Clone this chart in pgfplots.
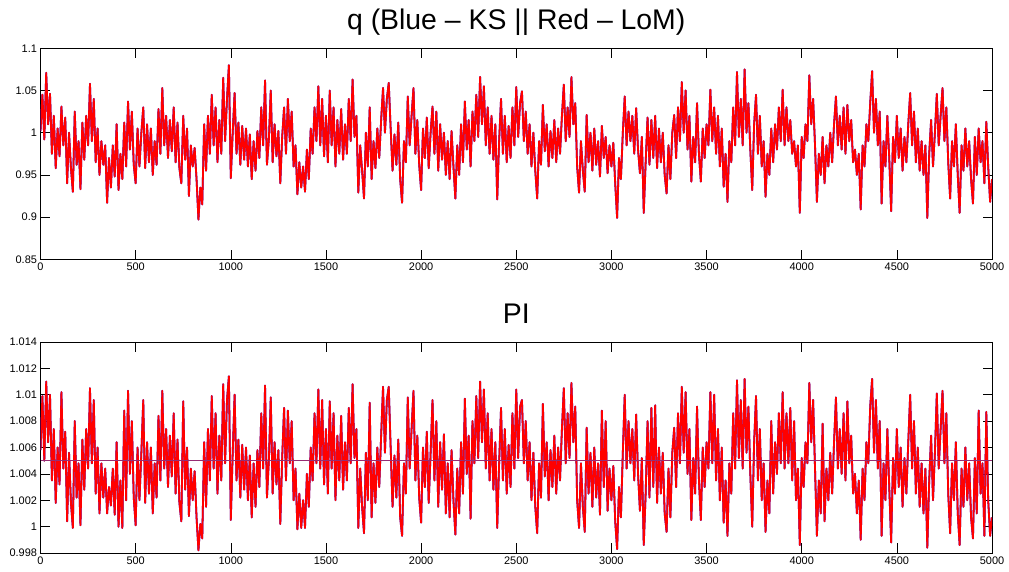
\documentclass[border=0pt]{standalone}
\usepackage{fontspec}
\setmainfont{Liberation Sans}
\usepackage{pgfplots}
\usepackage{pgfplotstable}
\pgfplotsset{compat=1.18}
\definecolor{ks}{RGB}{0,0,255}
\definecolor{lom}{RGB}{255,0,0}
\definecolor{ss}{RGB}{150,45,115}

% x, q, PI (KS and LoM coincide at this resolution)
\pgfplotstableread[row sep=\\]{
x q pi\\
0 1.002 1.0058\\ 10 1.045 1.0099\\ 20 0.992 1.0050\\ 30 1.071 1.0110\\ 40 1.010 1.0064\\ 50 1.046 1.0100\\ 60 0.975 1.0035\\ 70 1.020 1.0074\\ 80 0.958 1.0018\\ 90 1.005 1.0060\\
100 0.972 1.0032\\ 110 1.031 1.0102\\ 120 0.985 1.0044\\ 130 1.018 1.0072\\ 140 0.940 1.0004\\ 150 1.000 1.0056\\ 160 0.958 1.0018\\ 170 0.930 0.9999\\ 180 1.025 1.0080\\ 190 0.962 1.0022\\
200 0.990 1.0048\\ 210 0.933 1.0001\\ 220 1.012 1.0066\\ 230 0.968 1.0028\\ 240 1.020 1.0074\\ 250 0.985 1.0044\\ 260 1.058 1.0105\\ 270 0.990 1.0048\\ 280 1.040 1.0096\\ 290 0.965 1.0025\\
300 1.005 1.0060\\ 310 0.950 1.0010\\ 320 0.990 1.0048\\ 330 0.962 1.0022\\ 340 0.985 1.0044\\ 350 0.917 1.0010\\ 360 0.970 1.0030\\ 370 0.935 1.0016\\ 380 0.985 1.0044\\ 390 0.948 1.0009\\
400 1.010 1.0064\\ 410 0.932 1.0000\\ 420 0.975 1.0035\\ 430 0.945 0.9999\\ 440 1.012 1.0088\\ 450 0.960 1.0020\\ 460 1.037 1.0103\\ 470 0.980 1.0040\\ 480 1.025 1.0080\\ 490 0.962 1.0022\\
500 0.940 1.0001\\ 510 1.005 1.0060\\ 520 0.960 1.0020\\ 530 1.000 1.0056\\ 540 1.030 1.0096\\ 550 0.958 1.0018\\ 560 1.010 1.0064\\ 570 0.965 1.0025\\ 580 1.005 1.0060\\ 590 0.950 1.0010\\
600 0.990 1.0048\\ 610 0.962 1.0022\\ 620 1.028 1.0084\\ 630 0.975 1.0035\\ 640 1.053 1.0103\\ 650 0.985 1.0044\\ 660 1.020 1.0074\\ 670 0.970 1.0030\\ 680 1.015 1.0069\\ 690 0.978 1.0038\\
700 1.030 1.0086\\ 710 0.965 1.0025\\ 720 1.012 1.0066\\ 730 0.958 1.0018\\ 740 0.940 1.0004\\ 750 1.020 1.0095\\ 760 0.968 1.0028\\ 770 1.005 1.0060\\ 780 0.925 1.0008\\ 790 0.985 1.0044\\
800 0.960 1.0020\\ 810 0.982 1.0042\\ 820 0.945 1.0007\\ 830 0.897 0.9982\\ 840 0.935 1.0002\\ 850 0.915 0.9991\\ 860 1.010 1.0064\\ 870 0.955 1.0015\\ 880 1.020 1.0074\\ 890 0.975 1.0035\\
900 1.045 1.0099\\ 910 0.985 1.0044\\ 920 1.030 1.0086\\ 930 0.965 1.0025\\ 940 1.015 1.0069\\ 950 0.975 1.0035\\ 960 1.065 1.0108\\ 970 0.990 1.0048\\ 980 1.040 1.0096\\ 990 1.080 1.0114\\
1000 0.946 1.0005\\ 1010 1.000 1.0056\\ 1020 1.047 1.0100\\ 1030 0.975 1.0035\\ 1040 1.012 1.0066\\ 1050 0.962 1.0022\\ 1060 1.008 1.0062\\ 1070 0.968 1.0028\\ 1080 1.005 1.0060\\ 1090 0.960 1.0020\\
1100 0.998 1.0054\\ 1110 0.945 1.0007\\ 1120 0.990 1.0048\\ 1130 0.955 1.0015\\ 1140 1.002 1.0058\\ 1150 0.970 1.0030\\ 1160 1.030 1.0086\\ 1170 0.985 1.0044\\ 1180 1.062 1.0107\\ 1190 0.962 1.0022\\
1200 0.992 1.0050\\ 1210 1.050 1.0098\\ 1220 0.965 1.0025\\ 1230 1.010 1.0064\\ 1240 0.972 1.0032\\ 1250 1.002 1.0058\\ 1260 0.940 1.0002\\ 1270 0.995 1.0052\\ 1280 1.030 1.0090\\ 1290 0.975 1.0035\\
1300 1.040 1.0088\\ 1310 0.990 1.0048\\ 1320 1.025 1.0080\\ 1330 0.960 1.0020\\ 1340 0.985 1.0044\\ 1350 0.927 0.9998\\ 1360 0.965 1.0025\\ 1370 0.935 0.9999\\ 1380 0.960 1.0020\\ 1390 0.930 0.9999\\
1400 0.980 1.0040\\ 1410 0.945 1.0015\\ 1420 1.005 1.0060\\ 1430 0.975 1.0035\\ 1440 1.030 1.0086\\ 1450 0.990 1.0048\\ 1460 1.055 1.0104\\ 1470 0.985 1.0044\\ 1480 1.040 1.0096\\ 1490 0.972 1.0032\\
1500 1.020 1.0074\\ 1510 0.965 1.0025\\ 1520 1.050 1.0095\\ 1530 0.985 1.0044\\ 1540 1.030 1.0086\\ 1550 0.960 1.0020\\ 1560 1.015 1.0069\\ 1570 0.975 1.0035\\ 1580 1.028 1.0084\\ 1590 0.968 1.0028\\
1600 1.010 1.0064\\ 1610 0.975 1.0035\\ 1620 1.040 1.0090\\ 1630 0.990 1.0048\\ 1640 1.063 1.0108\\ 1650 0.995 1.0052\\ 1660 1.020 1.0074\\ 1670 0.929 0.9999\\ 1680 0.985 1.0044\\ 1690 0.955 1.0015\\
1700 0.922 0.9995\\ 1710 1.000 1.0056\\ 1720 0.960 1.0020\\ 1730 1.030 1.0094\\ 1740 0.945 1.0007\\ 1750 0.990 1.0048\\ 1760 0.958 1.0018\\ 1770 1.005 1.0060\\ 1780 0.970 1.0030\\ 1790 1.015 1.0069\\
1800 1.053 1.0106\\ 1810 1.000 1.0056\\ 1820 1.040 1.0096\\ 1830 1.059 1.0106\\ 1840 1.005 1.0060\\ 1850 0.955 1.0015\\ 1860 0.998 1.0054\\ 1870 0.962 1.0022\\ 1880 1.012 1.0066\\ 1890 0.945 1.0007\\
1900 0.917 0.9993\\ 1910 0.990 1.0048\\ 1920 0.965 1.0025\\ 1930 1.043 1.0098\\ 1940 0.985 1.0044\\ 1950 1.020 1.0074\\ 1960 1.053 1.0103\\ 1970 0.975 1.0035\\ 1980 1.015 1.0069\\ 1990 0.962 1.0022\\
2000 0.932 1.0003\\ 2010 1.005 1.0060\\ 2020 0.970 1.0030\\ 2030 1.018 1.0072\\ 2040 0.958 1.0018\\ 2050 1.000 1.0056\\ 2060 1.031 1.0096\\ 2070 0.975 1.0035\\ 2080 1.025 1.0080\\ 2090 0.955 1.0015\\
2100 1.010 1.0064\\ 2110 0.968 1.0028\\ 2120 1.000 1.0070\\ 2130 0.950 1.0010\\ 2140 0.990 1.0048\\ 2150 0.945 1.0007\\ 2160 1.002 1.0058\\ 2170 0.960 1.0020\\ 2180 0.922 0.9994\\ 2190 0.985 1.0044\\
2200 0.950 1.0010\\ 2210 1.010 1.0064\\ 2220 0.965 1.0025\\ 2230 1.037 1.0097\\ 2240 0.980 1.0040\\ 2250 1.015 1.0069\\ 2260 0.960 1.0006\\ 2270 1.025 1.0080\\ 2280 0.990 1.0048\\ 2290 1.045 1.0099\\
2300 0.995 1.0052\\ 2310 1.066 1.0110\\ 2320 1.010 1.0064\\ 2330 1.055 1.0104\\ 2340 0.985 1.0044\\ 2350 1.030 1.0086\\ 2360 0.975 1.0035\\ 2370 1.020 1.0074\\ 2380 0.968 1.0028\\ 2390 1.010 1.0064\\
2400 0.921 0.9999\\ 2410 0.990 1.0048\\ 2420 1.040 1.0090\\ 2430 0.975 1.0035\\ 2440 1.020 1.0074\\ 2450 0.965 1.0025\\ 2460 1.008 1.0062\\ 2470 0.970 1.0030\\ 2480 1.030 1.0086\\ 2490 0.985 1.0044\\
2500 1.054 1.0104\\ 2510 0.995 1.0052\\ 2520 1.035 1.0091\\ 2530 1.049 1.0096\\ 2540 0.990 1.0048\\ 2550 1.025 1.0080\\ 2560 0.975 1.0035\\ 2570 1.010 1.0064\\ 2580 0.960 1.0020\\ 2590 1.000 1.0056\\
2600 0.955 1.0015\\ 2610 0.922 0.9995\\ 2620 0.990 1.0048\\ 2630 0.962 1.0022\\ 2640 1.033 1.0093\\ 2650 0.978 1.0038\\ 2660 1.010 1.0064\\ 2670 0.960 1.0020\\ 2680 1.002 1.0058\\ 2690 0.970 1.0030\\
2700 1.015 1.0069\\ 2710 0.965 1.0025\\ 2720 1.005 1.0060\\ 2730 0.975 1.0035\\ 2740 1.020 1.0074\\ 2750 1.057 1.0105\\ 2760 0.990 1.0048\\ 2770 1.030 1.0086\\ 2780 0.995 1.0052\\ 2790 1.066 1.0109\\
2800 1.010 1.0064\\ 2810 1.035 1.0091\\ 2820 0.960 1.0020\\ 2830 0.929 0.9999\\ 2840 0.990 1.0048\\ 2850 0.955 1.0015\\ 2860 0.930 0.9996\\ 2870 1.021 1.0075\\ 2880 0.965 1.0025\\ 2890 1.000 1.0056\\
2900 0.955 1.0015\\ 2910 1.005 1.0060\\ 2920 0.962 1.0022\\ 2930 0.990 1.0048\\ 2940 0.948 1.0009\\ 2950 1.008 1.0088\\ 2960 0.970 1.0030\\ 2970 0.995 1.0080\\ 2980 0.952 1.0012\\ 2990 0.985 1.0044\\
3000 0.960 1.0020\\ 3010 0.988 1.0046\\ 3020 0.940 1.0004\\ 3030 0.899 0.9983\\ 3040 0.970 1.0030\\ 3050 0.945 1.0007\\ 3060 1.000 1.0056\\ 3070 1.043 1.0100\\ 3080 0.985 1.0044\\ 3090 1.025 1.0080\\
3100 0.990 1.0048\\ 3110 1.020 1.0074\\ 3120 0.975 1.0035\\ 3130 1.029 1.0085\\ 3140 0.980 1.0040\\ 3150 0.952 1.0012\\ 3160 0.995 1.0052\\ 3170 0.905 0.9986\\ 3180 0.965 1.0025\\ 3190 1.018 1.0080\\
3200 0.962 1.0022\\ 3210 1.015 1.0090\\ 3220 0.970 1.0030\\ 3230 1.020 1.0092\\ 3240 0.958 1.0018\\ 3250 1.005 1.0060\\ 3260 0.965 1.0025\\ 3270 1.000 1.0056\\ 3280 0.950 1.0010\\ 3290 0.928 0.9996\\
3300 0.985 1.0044\\ 3310 0.945 1.0007\\ 3320 1.000 1.0056\\ 3330 1.021 1.0075\\ 3340 0.970 1.0030\\ 3350 1.030 1.0086\\ 3360 0.990 1.0048\\ 3370 1.060 1.0106\\ 3380 1.000 1.0056\\ 3390 1.050 1.0102\\
3400 0.980 1.0040\\ 3410 1.020 1.0074\\ 3420 0.942 1.0005\\ 3430 0.995 1.0052\\ 3440 0.965 1.0025\\ 3450 1.035 1.0091\\ 3460 0.975 1.0035\\ 3470 0.942 1.0005\\ 3480 1.005 1.0060\\ 3490 0.970 1.0030\\
3500 1.010 1.0064\\ 3510 0.985 1.0044\\ 3520 1.051 1.0102\\ 3530 0.990 1.0048\\ 3540 1.030 1.0100\\ 3550 0.975 1.0035\\ 3560 1.020 1.0074\\ 3570 0.960 1.0020\\ 3580 1.005 1.0060\\ 3590 0.936 1.0003\\
3600 0.975 1.0035\\ 3610 0.918 0.9993\\ 3620 0.990 1.0048\\ 3630 0.965 1.0025\\ 3640 1.030 1.0086\\ 3650 0.985 1.0044\\ 3660 1.072 1.0111\\ 3670 0.995 1.0052\\ 3680 1.040 1.0096\\ 3690 0.985 1.0044\\
3700 1.075 1.0112\\ 3710 1.000 1.0056\\ 3720 1.035 1.0091\\ 3730 0.980 1.0040\\ 3740 0.932 1.0000\\ 3750 1.010 1.0064\\ 3760 1.045 1.0099\\ 3770 0.975 1.0035\\ 3780 1.020 1.0074\\ 3790 0.960 1.0020\\
3800 0.990 1.0048\\ 3810 0.924 0.9996\\ 3820 0.975 1.0035\\ 3830 0.950 1.0010\\ 3840 1.005 1.0080\\ 3850 0.965 1.0025\\ 3860 1.010 1.0064\\ 3870 0.980 1.0040\\ 3880 1.030 1.0086\\ 3890 0.990 1.0048\\
3900 1.051 1.0102\\ 3910 0.985 1.0044\\ 3920 1.030 1.0086\\ 3930 0.990 1.0048\\ 3940 1.015 1.0090\\ 3950 0.975 1.0035\\ 3960 0.990 1.0080\\ 3970 0.960 1.0020\\ 3980 0.985 1.0044\\ 3990 0.905 0.9986\\
4000 0.995 1.0052\\ 4010 0.970 1.0030\\ 4020 1.010 1.0064\\ 4030 0.990 1.0048\\ 4040 1.068 1.0109\\ 4050 1.010 1.0064\\ 4060 1.040 1.0096\\ 4070 0.985 1.0044\\ 4080 0.918 0.9993\\ 4090 0.975 1.0035\\
4100 0.950 1.0010\\ 4110 0.995 1.0078\\ 4120 0.940 1.0004\\ 4130 0.985 1.0044\\ 4140 0.960 1.0020\\ 4150 1.000 1.0056\\ 4160 0.965 1.0025\\ 4170 1.010 1.0064\\ 4180 1.043 1.0098\\ 4190 0.985 1.0044\\
4200 1.020 1.0074\\ 4210 0.980 1.0040\\ 4220 1.030 1.0086\\ 4230 0.975 1.0035\\ 4240 1.033 1.0095\\ 4250 0.990 1.0048\\ 4260 1.015 1.0069\\ 4270 0.965 1.0025\\ 4280 0.980 1.0040\\ 4290 0.950 1.0010\\
4300 0.975 1.0035\\ 4310 0.909 0.9990\\ 4320 0.985 1.0044\\ 4330 0.960 1.0020\\ 4340 1.010 1.0064\\ 4350 0.990 1.0048\\ 4360 1.035 1.0091\\ 4370 1.073 1.0112\\ 4380 1.000 1.0056\\ 4390 1.040 1.0096\\
4400 0.985 1.0044\\ 4410 1.025 1.0080\\ 4420 0.916 0.9993\\ 4430 0.990 1.0048\\ 4440 0.960 1.0020\\ 4450 1.020 1.0074\\ 4460 0.970 1.0030\\ 4470 0.907 0.9988\\ 4480 0.995 1.0052\\ 4490 0.965 1.0025\\
4500 1.020 1.0074\\ 4510 0.970 1.0030\\ 4520 1.005 1.0060\\ 4530 0.955 1.0015\\ 4540 0.995 1.0052\\ 4550 0.965 1.0025\\ 4560 1.010 1.0064\\ 4570 1.047 1.0100\\ 4580 0.985 1.0044\\ 4590 1.025 1.0080\\
4600 0.965 1.0025\\ 4610 1.005 1.0060\\ 4620 0.955 1.0015\\ 4630 0.990 1.0048\\ 4640 0.950 1.0010\\ 4650 0.985 1.0044\\ 4660 0.899 0.9984\\ 4670 0.975 1.0035\\ 4680 1.015 1.0069\\ 4690 0.960 1.0020\\
4700 1.000 1.0056\\ 4710 1.046 1.0101\\ 4720 0.985 1.0044\\ 4730 1.020 1.0074\\ 4740 1.053 1.0103\\ 4750 0.990 1.0048\\ 4760 1.030 1.0086\\ 4770 0.965 1.0025\\ 4780 0.922 0.9995\\ 4790 0.990 1.0048\\
4800 0.960 1.0020\\ 4810 1.010 1.0064\\ 4820 0.950 1.0010\\ 4830 0.905 0.9986\\ 4840 0.985 1.0044\\ 4850 0.955 1.0015\\ 4860 1.005 1.0060\\ 4870 0.960 1.0020\\ 4880 0.990 1.0048\\ 4890 0.945 1.0007\\
4900 0.916 0.9991\\ 4910 0.995 1.0052\\ 4920 0.950 1.0010\\ 4930 1.005 1.0088\\ 4940 0.965 1.0025\\ 4950 0.990 1.0048\\ 4960 0.940 0.9993\\ 4970 1.013 1.0087\\ 4980 0.960 1.0020\\ 4990 0.918 0.9993\\ 5000 0.945 1.0007\\
}\simdata

\pgfplotsset{matlab/.style={
    scale only axis,
    width=951.5bp, height=211bp,
    xmin=0, xmax=5000,
    xtick={0,500,1000,1500,2000,2500,3000,3500,4000,4500,5000},
    xticklabels={0,500,1000,1500,2000,2500,3000,3500,4000,4500,5000},
    scaled ticks=false,
    axis line style={line width=0.8bp},
    major tick length=9.5bp,
    tick style={line width=0.6bp, black},
    tick align=inside,
    ticklabel style={font=\fontsize{11}{13}\selectfont},
    /pgf/number format/assume math mode=true,
    title style={at={(0.5,1)}, anchor=base, yshift=13bp,
                 font=\fontsize{28.5}{32}\selectfont},
    every axis plot/.append style={line join=round},
  }}

\begin{document}
\begin{tikzpicture}
\useasboundingbox (0,0) rectangle (1009bp,572bp);

\begin{axis}[matlab,
    at={(40.5bp,312.7bp)}, anchor=south west,
    ymin=0.85, ymax=1.1,
    ytick={0.85,0.9,0.95,1,1.05,1.1},
    yticklabels={0.85,0.9,0.95,1,1.05,1.1},
    title={q (Blue – KS || Red – LoM)}]
\addplot[ks, line width=1.8bp] table[x=x, y=q] {\simdata};
\addplot[lom, line width=1.8bp] table[x=x, y=q] {\simdata};
\end{axis}

\begin{axis}[matlab,
    at={(40.5bp,19bp)}, anchor=south west,
    ymin=0.998, ymax=1.014,
    ytick={0.998,1,1.002,1.004,1.006,1.008,1.01,1.012,1.014},
    yticklabels={0.998,1,1.002,1.004,1.006,1.008,1.01,1.012,1.014},
    title={PI}]
\addplot[ks, line width=1.8bp] table[x=x, y=pi] {\simdata};
\addplot[lom, line width=1.8bp] table[x=x, y=pi] {\simdata};
\addplot[ss, line width=1.6bp] coordinates {(0,1.005) (5000,1.005)};
\end{axis}
\end{tikzpicture}
\end{document}
